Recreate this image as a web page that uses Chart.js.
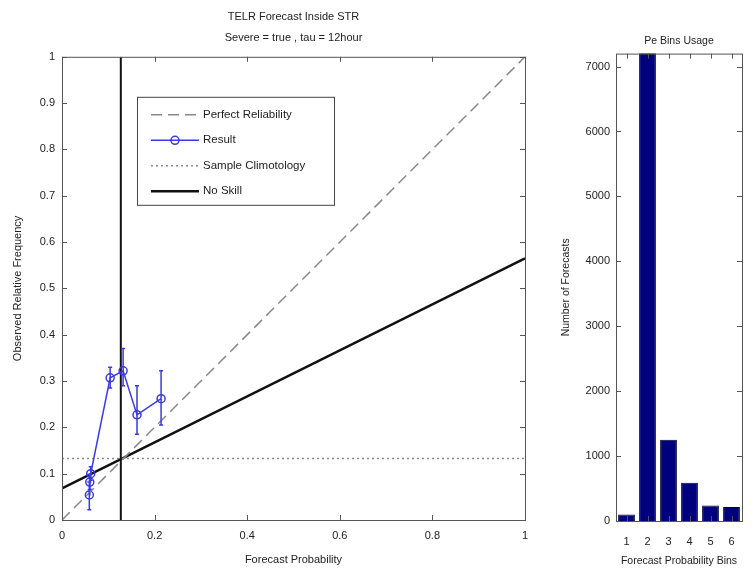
<!DOCTYPE html>
<html>
<head>
<meta charset="utf-8">
<script src="https://cdn.jsdelivr.net/npm/chart.js@4.4.0/dist/chart.umd.min.js"></script>
<style>
  body { margin: 0; background: #fff; width: 756px; height: 573px; overflow: hidden; position: relative; }
  canvas { position: absolute; top: 0; }
  #rel { left: 0; }
  #bins { left: 560px; }
</style>
</head>
<body>
<canvas id="rel" width="560" height="573"></canvas>
<canvas id="bins" width="196" height="573"></canvas>
<script>
// reliability diagram: forecast probability vs observed frequency
const resultX = [0.059, 0.060, 0.062, 0.104, 0.132, 0.162, 0.214]
const resultY = [0.054, 0.082, 0.100, 0.307, 0.322, 0.227, 0.262]
const resultLow = [0.022, 0.066, 0.086, 0.285, 0.290, 0.185, 0.205]
const resultHigh = [0.082, 0.098, 0.115, 0.330, 0.370, 0.290, 0.322]
const perfectX = [0, 1]
const perfectY = [0, 1]
const climX = [0, 1]
const climY = [0.133, 0.133]
const noSkillX = [0, 1]
const noSkillY = [0.068, 0.565]
const climVertX = [0.127, 0.127]
const climVertY = [0, 1]

// bin usage histogram
const binLabels = ["1", "2", "3", "4", "5", "6"]
const binCounts = [100, 7300, 1250, 590, 240, 215]
const binTicks = [0, 1000, 2000, 3000, 4000, 5000, 6000, 7000]

const BLUE = "#3a3adf"
const FONT = "'Liberation Sans', Arial, sans-serif"
Chart.defaults.font.family = FONT
Chart.defaults.color = "#222"

const pts = (xs, ys) => xs.map((v, i) => ({ x: v, y: ys[i] }))

// frame with inward tick marks, matlab style
const boxFrame = {
  id: "boxFrame",
  afterDraw(chart) {
    const { ctx, chartArea: a, scales } = chart
    ctx.save()
    ctx.strokeStyle = "#555"
    ctx.lineWidth = 1
    ctx.strokeRect(a.left + 0.5, a.top + 0.5, a.right - a.left, a.bottom - a.top)
    ctx.beginPath()
    scales.x.ticks.forEach((t, i) => {
      const p = Math.round(scales.x.getPixelForTick(i)) + 0.5
      ctx.moveTo(p, a.bottom); ctx.lineTo(p, a.bottom - 5)
      ctx.moveTo(p, a.top); ctx.lineTo(p, a.top + 5)
    })
    scales.y.ticks.forEach((t, i) => {
      const p = Math.round(scales.y.getPixelForTick(i)) + 0.5
      ctx.moveTo(a.left, p); ctx.lineTo(a.left + 5, p)
      ctx.moveTo(a.right, p); ctx.lineTo(a.right - 5, p)
    })
    ctx.stroke()
    ctx.restore()
  }
}

const errorBars = {
  id: "errorBars",
  afterDatasetsDraw(chart) {
    const { ctx, scales: { x, y } } = chart
    ctx.save()
    ctx.strokeStyle = BLUE
    ctx.lineWidth = 1.5
    ctx.beginPath()
    resultX.forEach((v, i) => {
      const px = x.getPixelForValue(v)
      const lo = y.getPixelForValue(resultLow[i])
      const hi = y.getPixelForValue(resultHigh[i])
      ctx.moveTo(px, lo); ctx.lineTo(px, hi)
      ctx.moveTo(px - 2, lo); ctx.lineTo(px + 2, lo)
      ctx.moveTo(px - 2, hi); ctx.lineTo(px + 2, hi)
    })
    ctx.stroke()
    ctx.restore()
  }
}

// legend box drawn inside the plot
const boxLegend = {
  id: "boxLegend",
  afterDraw(chart) {
    const { ctx, chartArea: a } = chart
    const bx = a.left + 75, by = a.top + 40, bw = 197, bh = 108
    ctx.save()
    ctx.fillStyle = "#fff"
    ctx.fillRect(bx, by, bw, bh)
    ctx.strokeStyle = "#444"
    ctx.lineWidth = 1
    ctx.strokeRect(bx + 0.5, by + 0.5, bw, bh)
    const items = chart.data.datasets.filter(d => !d.hideInLegend)
    items.forEach((d, i) => {
      const yy = by + 18 + i * 25.5
      ctx.strokeStyle = d.borderColor
      ctx.lineWidth = d.borderWidth
      ctx.setLineDash(d.borderDash || [])
      ctx.beginPath()
      ctx.moveTo(bx + 14, yy); ctx.lineTo(bx + 62, yy)
      ctx.stroke()
      ctx.setLineDash([])
      if (d.pointRadius) {
        ctx.lineWidth = 1.5
        ctx.beginPath()
        ctx.arc(bx + 38, yy, 4, 0, Math.PI * 2)
        ctx.stroke()
      }
      ctx.fillStyle = "#222"
      ctx.font = "11.5px " + FONT
      ctx.textBaseline = "middle"
      ctx.fillText(d.label, bx + 66, yy)
    })
    ctx.restore()
  }
}

const fmt = v => String(+v.toFixed(1))

new Chart(document.getElementById("rel"), {
  type: "scatter",
  data: {
    datasets: [
      {
        label: "Perfect Reliability",
        data: pts(perfectX, perfectY),
        showLine: true,
        borderColor: "#8a8a8a",
        borderWidth: 1.5,
        borderDash: [11, 6],
        pointRadius: 0,
      },
      {
        label: "Result",
        data: pts(resultX, resultY),
        showLine: true,
        borderColor: BLUE,
        borderWidth: 1.5,
        pointRadius: 4,
        pointBorderWidth: 1.5,
        pointBorderColor: BLUE,
        pointBackgroundColor: "rgba(0,0,0,0)",
      },
      {
        label: "Sample Climotology",
        data: pts(climX, climY),
        showLine: true,
        borderColor: "#8a8a8a",
        borderWidth: 1.5,
        borderDash: [2, 3],
        pointRadius: 0,
      },
      {
        label: "No Skill",
        data: pts(noSkillX, noSkillY),
        showLine: true,
        borderColor: "#111",
        borderWidth: 2.5,
        pointRadius: 0,
      },
      {
        label: "climatology",
        hideInLegend: true,
        data: pts(climVertX, climVertY),
        showLine: true,
        borderColor: "#111",
        borderWidth: 2,
        pointRadius: 0,
      },
    ],
  },
  options: {
    responsive: false,
    animation: false,
    layout: { padding: { top: 0, right: 35, left: 0, bottom: 0 } },
    plugins: {
      legend: { display: false },
      tooltip: { enabled: false },
      title: {
        display: true,
        fullSize: false,
        text: ["TELR Forecast Inside STR", "Severe = true , tau = 12hour"],
        font: { size: 11, weight: "normal", lineHeight: 1.9 },
        padding: { top: 7, bottom: 8 },
      },
    },
    scales: {
      x: {
        type: "linear",
        min: 0,
        max: 1,
        grid: { display: false, drawTicks: false },
        border: { display: false },
        ticks: { stepSize: 0.2, padding: 9, font: { size: 11 }, callback: fmt },
        title: { display: true, text: "Forecast Probability", font: { size: 11 }, padding: { top: 0, bottom: 6 } },
        afterFit(s) { s.height = 53 },
      },
      y: {
        min: 0,
        max: 1,
        grid: { display: false, drawTicks: false },
        border: { display: false },
        ticks: { stepSize: 0.1, padding: 7, font: { size: 11 }, callback: fmt },
        title: { display: true, text: "Observed Relative Frequency", font: { size: 11 }, padding: { top: 11, bottom: 0 } },
        afterFit(s) { s.width = 62 },
      },
    },
  },
  plugins: [errorBars, boxFrame, boxLegend],
})

new Chart(document.getElementById("bins"), {
  type: "bar",
  data: {
    labels: binLabels,
    datasets: [
      {
        label: "Number of Forecasts",
        data: binCounts,
        backgroundColor: "#00007f",
        borderColor: "#000033",
        borderWidth: 1,
        barPercentage: 0.8,
        categoryPercentage: 1,
      },
    ],
  },
  options: {
    responsive: false,
    animation: false,
    layout: { padding: { top: 0, right: 14, left: 0, bottom: 0 } },
    plugins: {
      legend: { display: false },
      tooltip: { enabled: false },
      title: {
        display: true,
        fullSize: false,
        text: "Pe Bins Usage",
        font: { size: 10.5, weight: "normal", lineHeight: 1.2 },
        padding: { top: 35, bottom: 6 },
      },
    },
    scales: {
      x: {
        grid: { display: false, drawTicks: false },
        border: { display: false },
        ticks: { padding: 14, font: { size: 11 } },
        title: { display: true, text: "Forecast Probability Bins", font: { size: 10.5 }, padding: { top: 0, bottom: 6 } },
        afterFit(s) { s.height = 52 },
      },
      y: {
        type: "linear",
        min: 0,
        max: 7200,
        grid: { display: false, drawTicks: false },
        border: { display: false },
        afterBuildTicks(s) { s.ticks = binTicks.map(v => ({ value: v })) },
        ticks: { autoSkip: false, padding: 6, font: { size: 11 }, callback: v => String(v) },
        title: { display: true, text: "Number of Forecasts", font: { size: 10.5 }, padding: { top: 0, bottom: 0 } },
        afterFit(s) { s.width = 56 },
      },
    },
  },
  plugins: [boxFrame],
})
</script>
</body>
</html>
